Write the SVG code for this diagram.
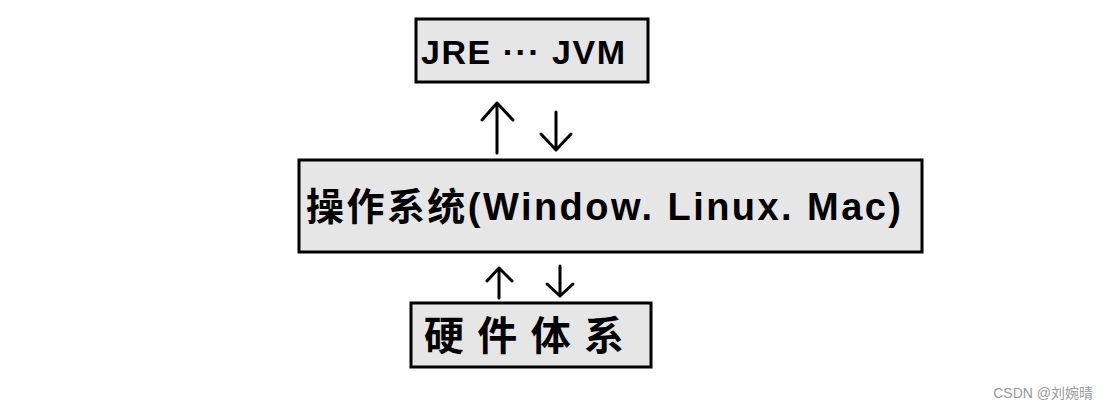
<svg xmlns="http://www.w3.org/2000/svg" width="1109" height="410" viewBox="0 0 1109 410">
<style>
.box{fill:#e6e6e6;stroke:#000;stroke-width:3}
.t{font-family:"Liberation Sans","Noto Sans CJK SC",sans-serif;font-weight:bold;fill:#000}
.a{stroke:#000;stroke-width:3;fill:none;stroke-linecap:round;stroke-linejoin:round}
</style>
<rect width="1109" height="410" fill="#fff"/>
<g id="jre"><rect class="box" x="416" y="19" width="232" height="63"/><text class="t" x="421" y="64" font-size="34" textLength="204" lengthAdjust="spacing">JRE ··· JVM</text></g>
<g id="os"><rect class="box" x="299" y="160" width="623" height="92"/><text class="t" x="306" y="220" font-size="38" textLength="595" lengthAdjust="spacing">操作系统(Window. Linux. Mac)</text></g>
<g id="hw"><rect class="box" x="411" y="303" width="240" height="64"/><text class="t" x="424" y="350" font-size="40" textLength="200" lengthAdjust="spacing">硬件体系</text></g>
<g id="connectors">
<path class="a" d="M497 153V103M482 120L497 103L513 120"/>
<path class="a" d="M556 112V150M541 134L556 150L571 134"/>
<path class="a" d="M499 298V268M487 281L499 268L512 281"/>
<path class="a" d="M560 266V296M547 284L560 296L573 284"/>
</g>
<text x="1093" y="398" font-family="'Liberation Sans','Noto Sans CJK SC',sans-serif" font-size="14" fill="#999" text-anchor="end">CSDN @刘婉晴</text>
</svg>
